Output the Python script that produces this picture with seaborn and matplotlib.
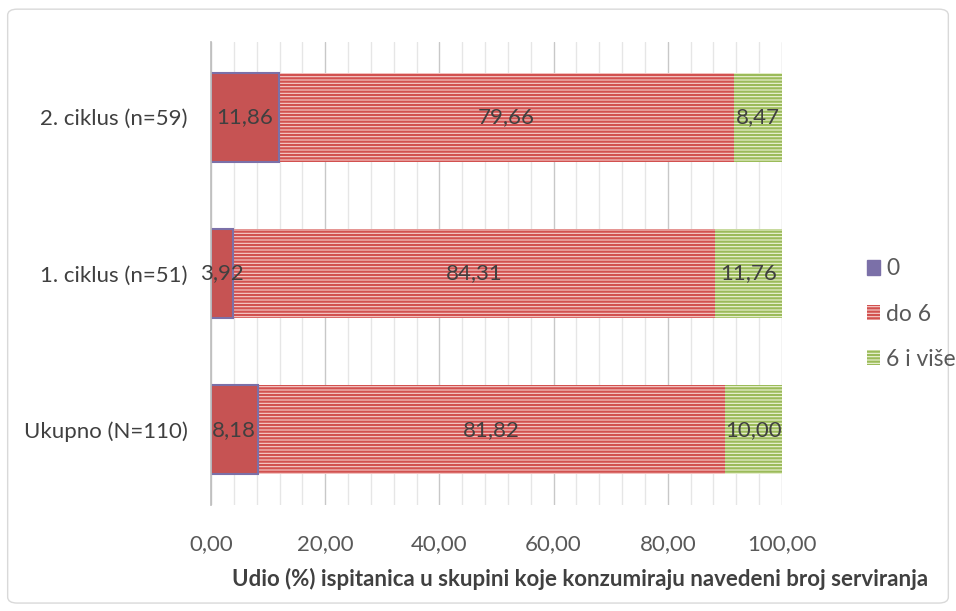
import numpy as np
import pandas as pd
import matplotlib
matplotlib.use('Agg')
import matplotlib.pyplot as plt
import seaborn as sns
from matplotlib.patches import Patch, FancyBboxPatch
from matplotlib.ticker import MultipleLocator, FuncFormatter

# data
groups = ['2. ciklus (n=59)', '1. ciklus (n=51)', 'Ukupno (N=110)']
series = ['0', 'do 6', '6 i više']
val_0 = [11.86, 3.92, 8.18]
val_do6 = [79.66, 84.31, 81.82]
val_6plus = [8.47, 11.76, 10.00]

sns.set_theme(style='white')
plt.rcParams['font.family'] = ['Lato', 'DejaVu Sans']
plt.rcParams['hatch.linewidth'] = 1.6

df = pd.DataFrame({'group': groups, '0': val_0, 'do 6': val_do6, '6 i više': val_6plus})
df['c1'] = df['0']
df['c2'] = df['0'] + df['do 6']
df['c3'] = df['c2'] + df['6 i više']

fig = plt.figure(figsize=(9.56, 6.11), dpi=100)
ax = fig.add_axes([0.2207, 0.1735, 0.5973, 0.7577])

purple = '#7b70a8'
red_face, red_line = '#f6cfcd', '#d2514f'
green_face, green_line = '#eef4d8', '#9bbb59'

# stacked bars drawn as cumulative totals, largest first
sns.barplot(data=df, y='group', x='c3', order=groups, color=green_face, width=0.57,
            orient='h', ax=ax, saturation=1, edgecolor=green_line, linewidth=0, hatch='-----')
sns.barplot(data=df, y='group', x='c2', order=groups, color=red_face, width=0.57,
            orient='h', ax=ax, saturation=1, edgecolor=red_line, linewidth=0, hatch='-----')
sns.barplot(data=df, y='group', x='c1', order=groups, color='#c65353', width=0.57,
            orient='h', ax=ax, saturation=1, edgecolor=purple, linewidth=1.5)

# segment labels
for i, g in enumerate(groups):
    starts = [0, df['c1'][i], df['c2'][i]]
    widths = [df['0'][i], df['do 6'][i], df['6 i više'][i]]
    for s, w in zip(starts, widths):
        ax.text(s + w / 2, i, f'{w:.2f}'.replace('.', ','), ha='center', va='center',
                fontsize=16, color='#404040')

ax.set_xlim(0, 100)
ax.set_ylim(2.48, -0.48)
ax.xaxis.set_major_locator(MultipleLocator(20))
ax.xaxis.set_minor_locator(MultipleLocator(4))
ax.xaxis.set_major_formatter(FuncFormatter(lambda v, p: f'{v:.2f}'.replace('.', ',')))
ax.grid(which='major', axis='x', color='#c8c8c8', linewidth=1)
ax.grid(which='minor', axis='x', color='#e6e6e6', linewidth=1)
ax.set_axisbelow(True)
for sp in ['top', 'right', 'bottom']:
    ax.spines[sp].set_visible(False)
ax.spines['left'].set_color('#bfbfbf')
ax.tick_params(axis='x', which='both', length=0, labelsize=16, labelcolor='#595959', pad=21)
ax.tick_params(axis='y', length=0, labelsize=16, labelcolor='#404040', pad=17)
ax.set_ylabel('')
ax.set_xlabel('Udio (%) ispitanica u skupini koje konzumiraju navedeni broj serviranja',
              fontsize=16, fontweight='bold', color='#404040')
ax.xaxis.set_label_coords(0.646, -0.137)

handles = [Patch(facecolor=purple, edgecolor=purple),
           Patch(facecolor=red_face, edgecolor=red_line, hatch='-----', linewidth=0),
           Patch(facecolor=green_face, edgecolor=green_line, hatch='-----', linewidth=0)]
leg = fig.legend(handles, series, loc='center left', bbox_to_anchor=(0.885, 0.486),
                 frameon=False, fontsize=16.5, labelspacing=1.05, handlelength=0.6,
                 handleheight=0.6, handletextpad=0.25)
for t in leg.get_texts():
    t.set_color('#595959')

fig.patches.append(FancyBboxPatch((0.008, 0.013), 0.984, 0.972, boxstyle='round,pad=0,rounding_size=0.01',
                                  transform=fig.transFigure, fill=False, edgecolor='#d9d9d9',
                                  linewidth=1))

fig.savefig('out.png', dpi=100)
